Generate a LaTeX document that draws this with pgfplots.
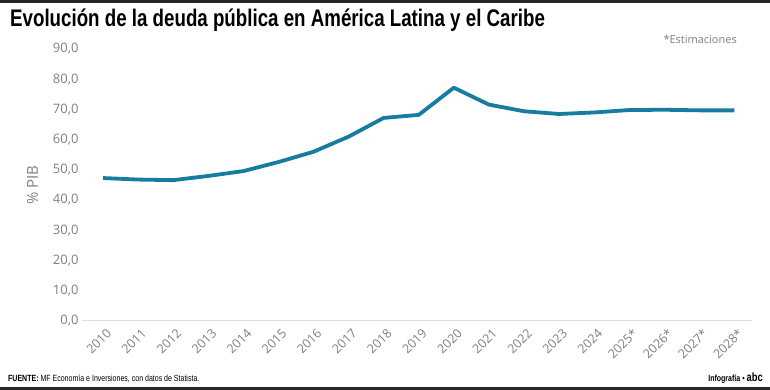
\documentclass[border=0pt]{standalone}
\usepackage{pgfplots}
\pgfplotsset{compat=1.18}
\usepackage{fontspec}
\setmainfont{Open Sans}
\newfontfamily\titlefont{Liberation Sans}[FakeStretch=0.78]
\newfontfamily\footfont{Liberation Sans}[FakeStretch=0.78]
\definecolor{linec}{RGB}{22,124,160}
\definecolor{tickc}{RGB}{128,128,128}
\begin{document}
\begin{tikzpicture}
\useasboundingbox (0pt,0pt) rectangle (770pt,390pt);
\fill[white] (0pt,0pt) rectangle (770pt,390pt);
\fill[black!85] (0pt,387pt) rectangle (770pt,390pt);
\fill[black!85] (0pt,0pt) rectangle (770pt,3pt);
\node[anchor=base west,inner sep=0pt,font=\titlefont\bfseries\fontsize{24}{26}\selectfont] at (10pt,363pt) {Evolución de la deuda pública en América Latina y el Caribe};
\node[anchor=base east,inner sep=0pt,text=tickc,font=\fontsize{11}{12}\selectfont] at (737pt,346pt) {*Estimaciones};
\node[anchor=base west,inner sep=0pt,font=\footfont\fontsize{9}{10}\selectfont] at (8pt,8pt) {\textbf{FUENTE:} MF Economía e Inversiones, con datos de Statista.};
\node[anchor=base east,inner sep=0pt,font=\footfont\fontsize{9}{10}\selectfont] at (763pt,8pt) {\textbf{Infografía} • \textbf{\large abc}};
\begin{axis}[
  at={(82pt,69pt)}, anchor=south west,
  scale only axis, width=670pt, height=272pt,
  xmin=-0.6, xmax=18.5, ymin=0, ymax=90,
  axis line style={draw=none}, tick style={draw=none},
  ytick={0,10,...,90},
  xtick={0,...,18},
  xticklabels={2010,2011,2012,2013,2014,2015,2016,2017,2018,2019,2020,2021,2022,2023,2024,2025*,2026*,2027*,2028*},
  x tick label style={xshift=6pt,yshift=-10pt,rotate=45,anchor=east,inner sep=0pt,text=tickc,font=\fontsize{12.5}{14}\selectfont},
  y tick label style={text=tickc,font=\fontsize{13}{14}\selectfont},
  yticklabel style={/pgf/number format/.cd,fixed,fixed zerofill,precision=1,use comma,assume math mode=true},
  extra y ticks={0}, extra y tick labels={},
  extra y tick style={grid=major, major grid style={draw=black!12, line width=1pt}},
  ylabel={\% PIB}, ylabel style={text=tickc,font=\fontsize{15}{16}\selectfont, yshift=8pt},
  clip=false,
]
\addplot[linec, line width=3.8pt, line join=round] coordinates {
(0,47.3) (1,46.8) (2,46.6) (3,48.0) (4,49.6) (5,52.6) (6,56.0) (7,61.0) (8,67.2) (9,68.2)
(10,77.2) (11,71.6) (12,69.4) (13,68.5) (14,69.0) (15,69.8) (16,69.9) (17,69.7) (18,69.7)};
\end{axis}
\end{tikzpicture}
\end{document}
